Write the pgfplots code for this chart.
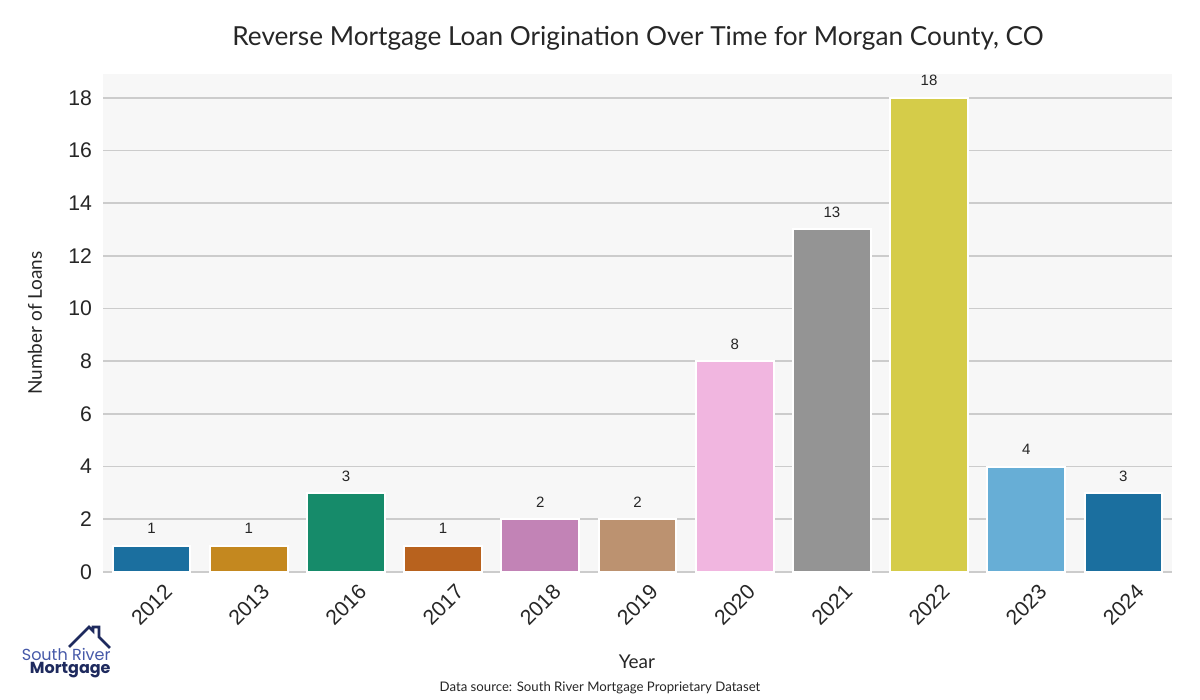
\documentclass[border=0pt]{standalone}
\usepackage{pgfplots}
\pgfplotsset{compat=1.18}
\usepackage{fontspec}
\setmainfont{Lato}
\newfontfamily\arialfont{Liberation Sans}
\newfontfamily\logofont{Poppins}
\definecolor{c1}{HTML}{1B6F9F}
\definecolor{c2}{HTML}{C4881F}
\definecolor{c3}{HTML}{168B6A}
\definecolor{c4}{HTML}{B8621E}
\definecolor{c5}{HTML}{C283B6}
\definecolor{c6}{HTML}{BC9270}
\definecolor{c7}{HTML}{F1B6E0}
\definecolor{c8}{HTML}{949494}
\definecolor{c9}{HTML}{D5CC49}
\definecolor{c10}{HTML}{67AED6}
\definecolor{c11}{HTML}{1B6F9F}
\definecolor{txt}{HTML}{262626}
\definecolor{bg}{HTML}{F7F7F7}
\definecolor{gridc}{HTML}{CCCCCC}
\definecolor{logoblue}{HTML}{4558A8}
\definecolor{logonavy}{HTML}{1E2A5E}
\begin{document}
\begin{tikzpicture}
\path[use as bounding box] (-51.5pt,-64pt) rectangle (548.5pt,286pt);
\begin{axis}[
  at={(0pt,0pt)}, anchor=south west,
  scale only axis, width=534.5pt, height=249pt,
  xmin=-0.5, xmax=10.5, ymin=0, ymax=18.9,
  axis background/.style={fill=bg},
  axis line style={draw=none},
  major tick length=0pt,
  ymajorgrids, grid style={gridc, line width=0.8pt},
  ytick={0,2,...,18},
  xtick={0,...,10},
  xticklabels={2012,2013,2016,2017,2018,2019,2020,2021,2022,2023,2024},
  xticklabel style={yshift=-16.5pt, rotate=45, anchor=center, inner sep=1pt, font=\arialfont\fontsize{10.6}{12}\selectfont, text=txt},
  yticklabel style={font=\arialfont\fontsize{10.6}{12}\selectfont, text=txt, xshift=-2pt},
  /pgf/number format/assume math mode=true,
  ybar, bar width=0.8, bar shift=0pt,
  every axis plot/.append style={draw=white, line width=1pt},
  nodes near coords,
  every node near coord/.append style={font=\arialfont\fontsize{7.5}{9}\selectfont, text=txt, yshift=2pt},
  clip=false,
]
\addplot[fill=c1] coordinates {(0,1)};
\addplot[fill=c2] coordinates {(1,1)};
\addplot[fill=c3] coordinates {(2,3)};
\addplot[fill=c4] coordinates {(3,1)};
\addplot[fill=c5] coordinates {(4,2)};
\addplot[fill=c6] coordinates {(5,2)};
\addplot[fill=c7] coordinates {(6,8)};
\addplot[fill=c8] coordinates {(7,13)};
\addplot[fill=c9] coordinates {(8,18)};
\addplot[fill=c10] coordinates {(9,4)};
\addplot[fill=c11] coordinates {(10,3)};
\end{axis}
\node[text=txt, font=\fontsize{13.1}{15}\selectfont] at (267.5pt,267pt) {Reverse Mortgage Loan Origination Over Time for Morgan County, CO};
\node[text=txt, font=\fontsize{9.5}{11}\selectfont, rotate=90] at (-34pt,124.5pt) {Number of Loans};
\node[text=txt, font=\fontsize{9.5}{11}\selectfont] at (267pt,-45pt) {Year};
\node[text=txt, font=\fontsize{6.6}{7.5}\selectfont] at (248.5pt,-58pt) {Data source: South River Mortgage Proprietary Dataset};
% logo
\draw[logonavy, line width=1.4pt, line join=miter] (-17pt,-37.5pt) -- (-7pt,-27.5pt) -- (-5pt,-29.5pt) -- (-5pt,-27.5pt) -- (-2pt,-27.5pt) -- (-2pt,-32.5pt) -- (3.5pt,-38pt);
\node[anchor=east, inner sep=0pt, text=logoblue, font=\logofont\fontsize{8}{9}\selectfont] at (4pt,-41pt) {South River};
\node[anchor=east, inner sep=0pt, text=logonavy, font=\logofont\bfseries\fontsize{8}{9}\selectfont] at (4pt,-49pt) {Mortgage};
\end{tikzpicture}
\end{document}
